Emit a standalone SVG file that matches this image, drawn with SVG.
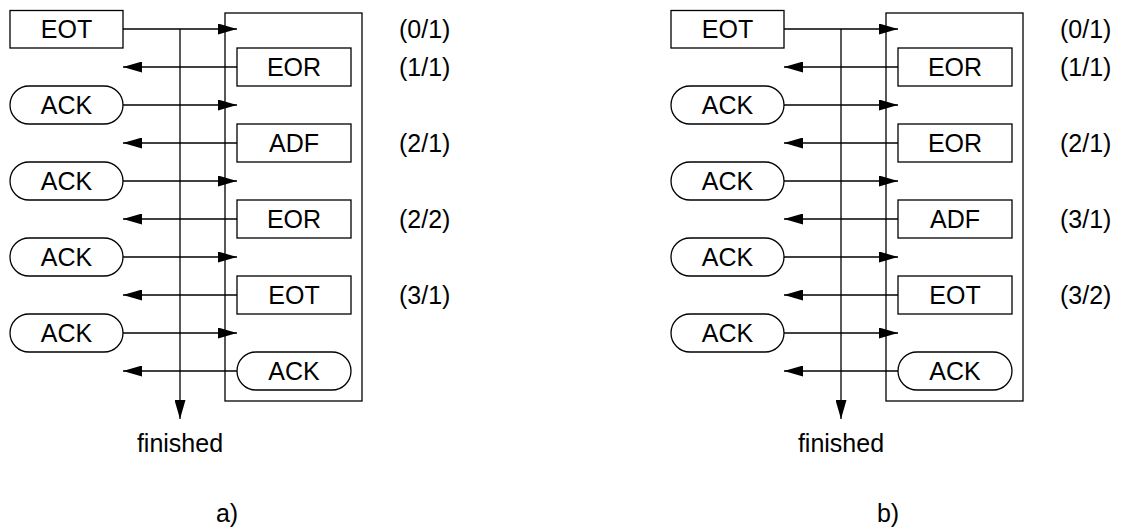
<svg xmlns="http://www.w3.org/2000/svg" width="1121" height="531" viewBox="0 0 1121 531">
<style>
.b{fill:#fff;stroke:#000;stroke-width:1.3}
.l{fill:none;stroke:#000;stroke-width:1.3}
.t{font-family:"Liberation Sans",Arial,sans-serif;font-size:25px;fill:#000;text-anchor:middle}
.s{font-family:"Liberation Sans",Arial,sans-serif;font-size:25px;fill:#000;text-anchor:start}
</style>
<defs>
<marker id="ah" markerUnits="userSpaceOnUse" markerWidth="19" markerHeight="11" refX="19" refY="5.5" orient="auto">
<path d="M0,0 L19,5.5 L0,11 z" fill="#000"/>
</marker>
</defs>
<rect width="1121" height="531" fill="#fff"/>

<!-- Diagram a -->
<g id="a-connectors">
<line class="l" x1="180" y1="29" x2="180" y2="419" marker-end="url(#ah)"/>
<line class="l" x1="123" y1="29" x2="237" y2="29" marker-end="url(#ah)"/>
<line class="l" x1="237" y1="67" x2="123" y2="67" marker-end="url(#ah)"/>
<line class="l" x1="123" y1="105" x2="237" y2="105" marker-end="url(#ah)"/>
<line class="l" x1="237" y1="143" x2="123" y2="143" marker-end="url(#ah)"/>
<line class="l" x1="123" y1="181" x2="237" y2="181" marker-end="url(#ah)"/>
<line class="l" x1="237" y1="219" x2="123" y2="219" marker-end="url(#ah)"/>
<line class="l" x1="123" y1="257" x2="237" y2="257" marker-end="url(#ah)"/>
<line class="l" x1="237" y1="295" x2="123" y2="295" marker-end="url(#ah)"/>
<line class="l" x1="123" y1="333" x2="237" y2="333" marker-end="url(#ah)"/>
<line class="l" x1="237" y1="371" x2="123" y2="371" marker-end="url(#ah)"/>
</g>
<g id="a-frame"><rect class="l" x="225" y="13" width="137" height="388"/></g>
<g id="a-eot-l"><rect class="b" x="10" y="10.5" width="113" height="37.5"/><text class="t" x="66.5" y="38">EOT</text></g>
<g id="a-ack-l1"><rect class="b" x="10" y="86" width="113" height="38" rx="19"/><text class="t" x="66.5" y="114">ACK</text></g>
<g id="a-ack-l2"><rect class="b" x="10" y="162" width="113" height="38" rx="19"/><text class="t" x="66.5" y="190">ACK</text></g>
<g id="a-ack-l3"><rect class="b" x="10" y="238" width="113" height="38" rx="19"/><text class="t" x="66.5" y="266">ACK</text></g>
<g id="a-ack-l4"><rect class="b" x="10" y="314" width="113" height="38" rx="19"/><text class="t" x="66.5" y="342">ACK</text></g>
<g id="a-eor1"><rect class="b" x="237" y="48" width="114" height="38"/><text class="t" x="294" y="76">EOR</text></g>
<g id="a-adf"><rect class="b" x="237" y="124" width="114" height="38"/><text class="t" x="294" y="152">ADF</text></g>
<g id="a-eor2"><rect class="b" x="237" y="200" width="114" height="38"/><text class="t" x="294" y="228">EOR</text></g>
<g id="a-eot-r"><rect class="b" x="237" y="276" width="114" height="38"/><text class="t" x="294" y="304">EOT</text></g>
<g id="a-ack-r"><rect class="b" x="237" y="352" width="114" height="38" rx="19"/><text class="t" x="294" y="380">ACK</text></g>
<g id="a-labels">
<text class="s" x="399" y="38">(0/1)</text>
<text class="s" x="399" y="76">(1/1)</text>
<text class="s" x="399" y="152">(2/1)</text>
<text class="s" x="399" y="228">(2/2)</text>
<text class="s" x="399" y="304">(3/1)</text>
<text class="t" x="180" y="452">finished</text>
<text class="t" x="227" y="522">a)</text>
</g>

<!-- Diagram b -->
<g id="b-connectors">
<line class="l" x1="841" y1="29" x2="841" y2="419" marker-end="url(#ah)"/>
<line class="l" x1="784" y1="29" x2="898" y2="29" marker-end="url(#ah)"/>
<line class="l" x1="898" y1="67" x2="784" y2="67" marker-end="url(#ah)"/>
<line class="l" x1="784" y1="105" x2="898" y2="105" marker-end="url(#ah)"/>
<line class="l" x1="898" y1="143" x2="784" y2="143" marker-end="url(#ah)"/>
<line class="l" x1="784" y1="181" x2="898" y2="181" marker-end="url(#ah)"/>
<line class="l" x1="898" y1="219" x2="784" y2="219" marker-end="url(#ah)"/>
<line class="l" x1="784" y1="257" x2="898" y2="257" marker-end="url(#ah)"/>
<line class="l" x1="898" y1="295" x2="784" y2="295" marker-end="url(#ah)"/>
<line class="l" x1="784" y1="333" x2="898" y2="333" marker-end="url(#ah)"/>
<line class="l" x1="898" y1="371" x2="784" y2="371" marker-end="url(#ah)"/>
</g>
<g id="b-frame"><rect class="l" x="886" y="13" width="137" height="388"/></g>
<g id="b-eot-l"><rect class="b" x="671" y="10.5" width="113" height="37.5"/><text class="t" x="727.5" y="38">EOT</text></g>
<g id="b-ack-l1"><rect class="b" x="671" y="86" width="113" height="38" rx="19"/><text class="t" x="727.5" y="114">ACK</text></g>
<g id="b-ack-l2"><rect class="b" x="671" y="162" width="113" height="38" rx="19"/><text class="t" x="727.5" y="190">ACK</text></g>
<g id="b-ack-l3"><rect class="b" x="671" y="238" width="113" height="38" rx="19"/><text class="t" x="727.5" y="266">ACK</text></g>
<g id="b-ack-l4"><rect class="b" x="671" y="314" width="113" height="38" rx="19"/><text class="t" x="727.5" y="342">ACK</text></g>
<g id="b-eor1"><rect class="b" x="898" y="48" width="114" height="38"/><text class="t" x="955" y="76">EOR</text></g>
<g id="b-eor2"><rect class="b" x="898" y="124" width="114" height="38"/><text class="t" x="955" y="152">EOR</text></g>
<g id="b-adf"><rect class="b" x="898" y="200" width="114" height="38"/><text class="t" x="955" y="228">ADF</text></g>
<g id="b-eot-r"><rect class="b" x="898" y="276" width="114" height="38"/><text class="t" x="955" y="304">EOT</text></g>
<g id="b-ack-r"><rect class="b" x="898" y="352" width="114" height="38" rx="19"/><text class="t" x="955" y="380">ACK</text></g>
<g id="b-labels">
<text class="s" x="1060" y="38">(0/1)</text>
<text class="s" x="1060" y="76">(1/1)</text>
<text class="s" x="1060" y="152">(2/1)</text>
<text class="s" x="1060" y="228">(3/1)</text>
<text class="s" x="1060" y="304">(3/2)</text>
<text class="t" x="841" y="452">finished</text>
<text class="t" x="888" y="522">b)</text>
</g>
</svg>
